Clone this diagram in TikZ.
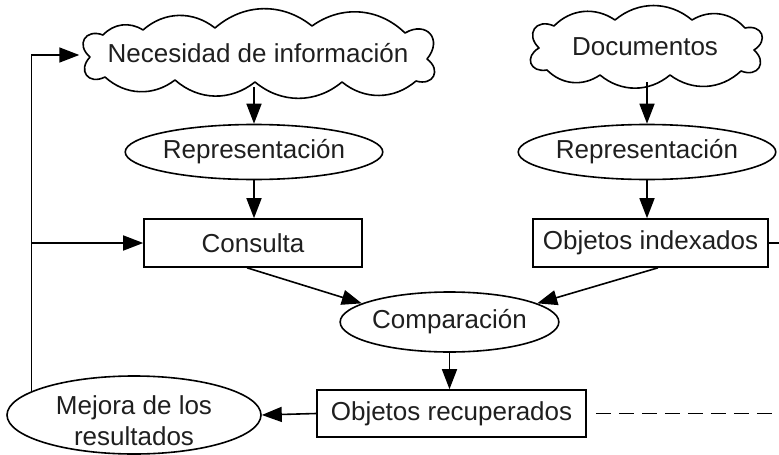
\documentclass[tikz,border=0pt]{standalone}
\usepackage{fontspec}
\setmainfont{Liberation Sans}
\usetikzlibrary{shapes.geometric,arrows.meta}
\begin{document}
\begin{tikzpicture}[x=1pt,y=1pt,
  every node/.style={font=\fontsize{26}{29}\selectfont, text=black!88, inner sep=0pt},
  anchorbox/.style={rectangle},
  cloudline/.style={line width=1.6pt, line join=round},
  puff/.style={bend left=40},
  lobe/.style={bend left=80, looseness=1.9},
  ellbox/.style={draw, line width=1.6pt, ellipse},
  rectbox/.style={draw, line width=1.6pt, rectangle},
  conn/.style={line width=1.6pt, -{Triangle[length=20pt,width=15pt]}},
  dashedline/.style={line width=1.6pt, dash pattern=on 15pt off 8pt}]
\useasboundingbox (0,0) rectangle (779,-455);
% clouds
\draw[cloudline] (90,-57) to[lobe] (103,-35) to[puff] (143,-30) to[puff] (215,-28)
  to[puff] (312,-26) to[puff] (405,-33) to[lobe] (427,-59) to[lobe] (416,-81)
  to[puff] (342,-82) to[puff] (255,-82) to[puff] (175,-80) to[puff] (105,-77)
  to[lobe] cycle;
\draw[cloudline] (539,-48) to[lobe] (554,-26) to[puff] (615,-20) to[puff] (692,-20)
  to[puff] (745,-28) to[lobe] (754,-50) to[lobe] (741,-71) to[puff] (670,-75)
  to[puff] (600,-75) to[puff] (547,-70) to[lobe] cycle;
\node[anchorbox, minimum width=357, minimum height=68] (nec) at (258,-53) {Necesidad de información};
\node[anchorbox, minimum width=236, minimum height=70] (doc) at (645,-47) {Documentos};
\node[ellbox, minimum width=217, minimum height=55] (repL) at (254,-152) {Representación};
\node[ellbox, minimum width=215, minimum height=55] (repR) at (647,-152) {Representación};
\node[rectbox, minimum width=218, minimum height=48] (cons) at (253,-243) {Consulta};
\node[rectbox, minimum width=235, minimum height=48] (objI) at (650.5,-243) {Objetos indexados};
\node[ellbox, minimum width=215, minimum height=60] (comp) at (449.5,-322) {Comparación};
\node[rectbox, minimum width=269, minimum height=47] (objR) at (451.5,-413.5) {Objetos recuperados};
\node[ellbox, minimum width=254, minimum height=78] (mej) at (134,-415) {};
\node[align=center, font=\fontsize{26}{31}\selectfont] (mejT) at (134,-421) {Mejora de los\\resultados};
\coordinate (eR) at (790,-243);
\coordinate (eB) at (790,-413.5);
\draw[conn] (nec.south -| repL.north) -- (repL.north);
\draw[conn] (repL.south) -- (repL.south |- cons.north);
\draw[conn] (doc.south -| repR.north) -- (repR.north);
\draw[conn] (repR.south) -- (repR.south |- objI.north);
\draw[conn] ([xshift=-6pt]cons.south) -- (comp.168);
\draw[conn] ([xshift=7.5pt]objI.south) -- (comp.12);
\draw[conn] (comp.south) -- (comp.south |- objR.north);
\draw[conn] (objR.west) -- (mej.east);
\draw[conn] (mej.167) |- ([yshift=-2pt]nec.west);
\draw[conn] (mej.167 |- cons.west) -- (cons.west);
\draw[dashedline] (objI.east) -- (eR);
\draw[dashedline] ([xshift=9pt]objR.east) -- (eB);
\end{tikzpicture}
\end{document}
